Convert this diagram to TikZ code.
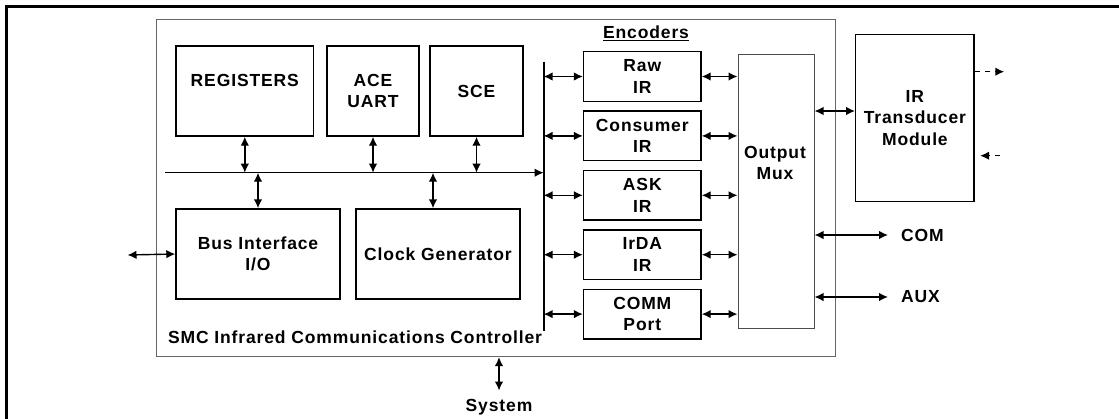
\documentclass[tikz,border=0pt]{standalone}
\usepackage{fontspec}
\setmainfont{Liberation Sans}[LetterSpace=5]
\usetikzlibrary{arrows.meta,positioning}

\begin{document}
\begin{tikzpicture}[x=1pt,y=-1pt,
    every node/.style={font=\bfseries\fontsize{17.5}{21.5}\selectfont},
    blk/.style={draw,line width=1.4pt,inner sep=0pt,align=center},
    lbl/.style={inner sep=0pt,align=center},
    bi/.style={{Latex[length=9pt,width=8.5pt]}-{Latex[length=9pt,width=8.5pt]},line width=1.4pt},
    dsh/.style={line width=1.4pt,dash pattern=on 5pt off 5pt,-{Latex[length=9pt,width=8.5pt]}}]
  \useasboundingbox (0,0) rectangle (1119,418);
  \draw[line width=2.2pt] (6.5,420) -- (6.5,6.5) -- (1121,6.5);

  % controller frame
  \node(smc) [draw=black!60, line width=0.9pt, inner sep=0pt, minimum width=679.4pt, minimum height=337.7pt] at (495.7,187.85) {};
  \node(smclbl) [lbl] at (355,337) {SMC Infrared Communications Controller};

  % internal blocks
  \node(regs) [blk, minimum width=137.6pt, minimum height=90pt] at (244.8,91) {REGISTERS\\~};
  \node(ace) [blk, minimum width=92pt, minimum height=90pt] at (373,91) {ACE\\UART};
  \node(sce) [blk, minimum width=93pt, minimum height=90pt] at (476.5,91) {SCE};
  \node(busif) [blk, minimum width=164pt, minimum height=90pt] at (258,254) {Bus Interface\\I/O};
  \node(clk) [blk, minimum width=164pt, minimum height=90pt] at (438,254) {Clock Generator};

  % encoders
  \node(enc) [lbl] at (646,33) {\underline{Encoders}};
  \node(raw) [blk, minimum width=117.4pt, minimum height=49.5pt] at (642.3,76.5) {Raw\\IR};
  \node(cons) [blk, minimum width=117.4pt, minimum height=49.5pt, below=8.5pt of raw] {Consumer\\IR};
  \node(ask) [blk, minimum width=117.4pt, minimum height=49.5pt, below=8.5pt of cons] {ASK\\IR};
  \node(irda) [blk, minimum width=117.4pt, minimum height=49.5pt, below=8.5pt of ask] {IrDA\\IR};
  \node(comm) [blk, minimum width=117.4pt, minimum height=49.5pt, below=8.5pt of irda] {COMM\\Port};

  \node(mux) [draw=black!70, line width=1pt, inner sep=0pt, minimum width=76pt, minimum height=274.3pt] at (776,191.2) {};
  \node(muxtxt) [lbl] at (775,163) {Output\\Mux};
  \node(irt) [blk, minimum width=118.3pt, minimum height=167.4pt] at (914.9,118) {IR\\Transducer\\Module};

  \node(com) [lbl, anchor=west] at (901,235) {COM};
  \node(aux) [lbl, anchor=west] at (901,297) {AUX};
  \node(sys) [lbl] at (499,406.7) {System};

  % bus
  \coordinate (bvtop) at (543.6,61.7);
  \coordinate (bvbot) at (543.6,330.7);
  \coordinate (busw) at (165,172.7);
  \coordinate (host) at (127.5,255);
  \coordinate (clktop) at ([xshift=-5pt]clk.north);
  \coordinate (irlink) at (0,111);
  \coordinate (txout) at (1004.3,71.7);
  \coordinate (rxin) at (999.7,155.7);
  \draw[line width=1.8pt] (bvtop) -- (bvbot);
  \draw[line width=1.4pt, -{Latex[length=9pt,width=8.5pt]}] (busw) -- (busw -| bvtop);

  \foreach \b in {regs,ace,sce}
    \draw[bi] (\b.south) -- (\b.south |- busw);
  \draw[bi] (busif.north |- busw) -- (busif.north);
  \draw[bi] (clktop |- busw) -- (clktop);
  \draw[bi] (host) -- (busif.west);

  \foreach \e in {raw,cons,ask,irda,comm}{
    \draw[bi] (bvtop |- \e.west) -- (\e.west);
    \draw[bi] (\e.east) -- (\e.east -| mux.west);
  }

  \draw[bi] (mux.east |- irlink) -- (irt.west |- irlink);
  \draw[bi] (mux.east |- com.west) -- ([xshift=-13pt]com.west);
  \draw[bi] (mux.east |- aux.west) -- ([xshift=-13pt]aux.west);
  \draw[bi] (smc.south -| sys) -- ([yshift=8pt]sys.north);
  \draw[dsh] (irt.east |- txout) -- (txout);
  \draw[dsh, shorten >=5.4pt] (rxin) -- (irt.east |- rxin);
\end{tikzpicture}
\end{document}
